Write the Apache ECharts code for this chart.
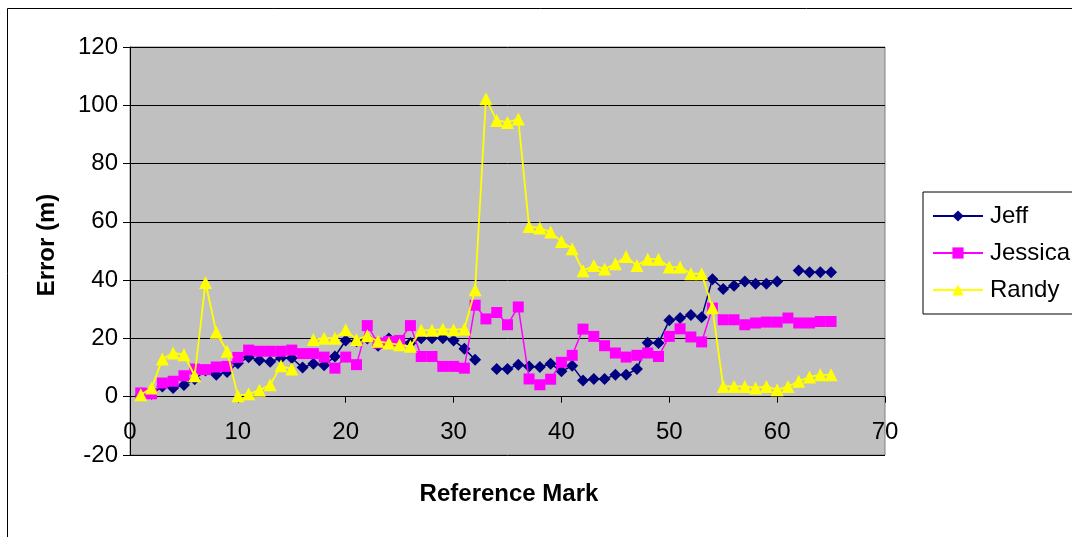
<!DOCTYPE html>
<html>
<head>
<meta charset="utf-8">
<script src="https://cdn.jsdelivr.net/npm/echarts@6/dist/echarts.min.js"></script>
<style>
  html, body { margin: 0; padding: 0; background: #fff; }
  #chart { width: 1072px; height: 537px; }
</style>
</head>
<body>
<div id="chart"></div>
<script>
// Reference marks (x values)
const marks = [1,2,3,4,5,6,7,8,9,10,11,12,13,14,15,16,17,18,19,20,
  21,22,23,24,25,26,27,28,29,30,31,32,33,34,35,36,37,38,39,40,
  41,42,43,44,45,46,47,48,49,50,51,52,53,54,55,56,57,58,59,60,
  61,62,63,64,65];

const jeff = [0.5,1,3.5,3,4,6,9,7.5,8.5,11.5,
  13.5,12.5,12,13.3,13.3,10,11.3,10.8,13.8,19.3,
  19,20,17.5,20,19,18.4,20.1,20.1,20.1,19.3,
  16.5,12.7,null,9.5,9.5,11,10.4,10.2,11.3,8.7,
  10.6,5.6,6.1,6.1,7.5,7.5,9.5,18.5,18.4,26.2,
  27,28,27.3,40.3,37,38.1,39.5,38.8,38.8,39.5,
  null,43.3,42.7,42.7,42.7];

const jessica = [1.3,1,4.7,5.3,7.2,9.5,9.3,10.2,10.4,13.5,
  16,15.6,15.6,15.6,16,14.8,14.8,13.6,9.8,13.6,
  11,24.4,18.4,19,19.3,24.4,13.8,13.8,10.4,10.4,
  9.8,31.4,26.7,28.9,24.7,30.8,6.1,4.1,6,11.8,
  14.2,23.2,20.7,17.5,15,13.6,14.2,15,13.8,20.7,
  23.3,20.5,18.8,30.4,26.4,26.4,24.7,25.3,25.6,25.6,
  27,25.3,25.3,25.8,25.8];

const randy = [0.7,3,12.9,15,14.4,7.2,39.2,22.1,15.6,0.3,
  1,2.2,4.1,10.6,9.5,null,19.6,20.1,20.1,23,
  19.6,20.9,19,18.4,17.8,17.3,22.8,22.8,23.2,23,
  23.2,36.7,102.2,94.8,94.1,95.3,58.4,57.9,56.5,53.3,
  50.8,43.2,45,43.8,45.6,48.1,45,47.2,47.2,44.5,
  44.5,42.2,42.2,30.5,3.5,3.5,3.5,3,3.5,2.4,
  3.5,5.3,6.8,7.5,7.5];

const seriesNames = ['Jeff', 'Jessica', 'Randy'];
const xTitle = 'Reference Mark';
const yTitle = 'Error (m)';

const FONT = "'Liberation Sans', Arial, sans-serif";

function pairs(vals) {
  return marks.map((m, i) => [m, vals[i]]);
}

const chart = echarts.init(document.getElementById('chart'), null, { renderer: 'canvas' });

const option = {
  animation: false,
  backgroundColor: '#ffffff',
  textStyle: { fontFamily: FONT },
  grid: {
    left: 130, top: 47, width: 755, height: 408,
    show: true,
    backgroundColor: '#C0C0C0',
    borderColor: '#808080',
    borderWidth: 1
  },
  xAxis: {
    type: 'value',
    min: 0, max: 70, interval: 10,
    axisLine: { show: true, onZero: true, lineStyle: { color: '#000', width: 1 } },
    axisTick: { show: true, length: 6, lineStyle: { color: '#000' } },
    axisLabel: { color: '#000', fontSize: 24, fontFamily: FONT, margin: -35 },
    splitLine: { show: false }
  },
  yAxis: {
    type: 'value',
    min: -20, max: 120, interval: 20,
    axisLine: { show: true, onZero: false, lineStyle: { color: '#000', width: 1 } },
    axisTick: { show: true, length: 7, lineStyle: { color: '#000' } },
    axisLabel: { color: '#000', fontSize: 24, fontFamily: FONT, margin: 12 },
    splitLine: { show: true, lineStyle: { color: '#000', width: 1 } }
  },
  legend: {
    orient: 'vertical',
    left: 923, top: 192,
    padding: [12, 4, 12, 9],
    itemGap: 13,
    itemWidth: 50,
    itemHeight: 14,
    borderColor: '#000',
    borderWidth: 1,
    backgroundColor: '#fff',
    textStyle: { color: '#000', fontSize: 24, fontFamily: FONT, padding: [0, 0, 0, 2] },
    data: seriesNames
  },
  graphic: [
    {
      type: 'rect', silent: true, z: -10,
      shape: { x: 7.5, y: 8.5, width: 1100, height: 600 },
      style: { fill: 'none', stroke: '#000', lineWidth: 1 }
    },
    {
      type: 'text', silent: true,
      position: [509, 494],
      style: {
        text: xTitle, x: 0, y: 0, fill: '#000',
        font: 'bold 24px ' + FONT, textAlign: 'center', textVerticalAlign: 'middle'
      }
    },
    {
      type: 'text', silent: true,
      position: [47, 245], rotation: Math.PI / 2,
      style: {
        text: yTitle, x: 0, y: 0, fill: '#000',
        font: 'bold 24px ' + FONT, textAlign: 'center', textVerticalAlign: 'middle'
      }
    }
  ],
  series: [
    {
      name: seriesNames[0], type: 'line', data: pairs(jeff),
      connectNulls: false,
      symbol: 'diamond', symbolSize: 12,
      lineStyle: { color: '#000080', width: 1.5 },
      itemStyle: { color: '#000080' },
      z: 2
    },
    {
      name: seriesNames[1], type: 'line', data: pairs(jessica),
      connectNulls: false,
      symbol: 'rect', symbolSize: 11,
      lineStyle: { color: '#FF00FF', width: 1.5 },
      itemStyle: { color: '#FF00FF' },
      z: 3
    },
    {
      name: seriesNames[2], type: 'line', data: pairs(randy),
      connectNulls: false,
      symbol: 'triangle', symbolSize: 13,
      lineStyle: { color: '#FFFF00', width: 1.8 },
      itemStyle: { color: '#FFFF00' },
      z: 4
    }
  ]
};

chart.setOption(option);
</script>
</body>
</html>
